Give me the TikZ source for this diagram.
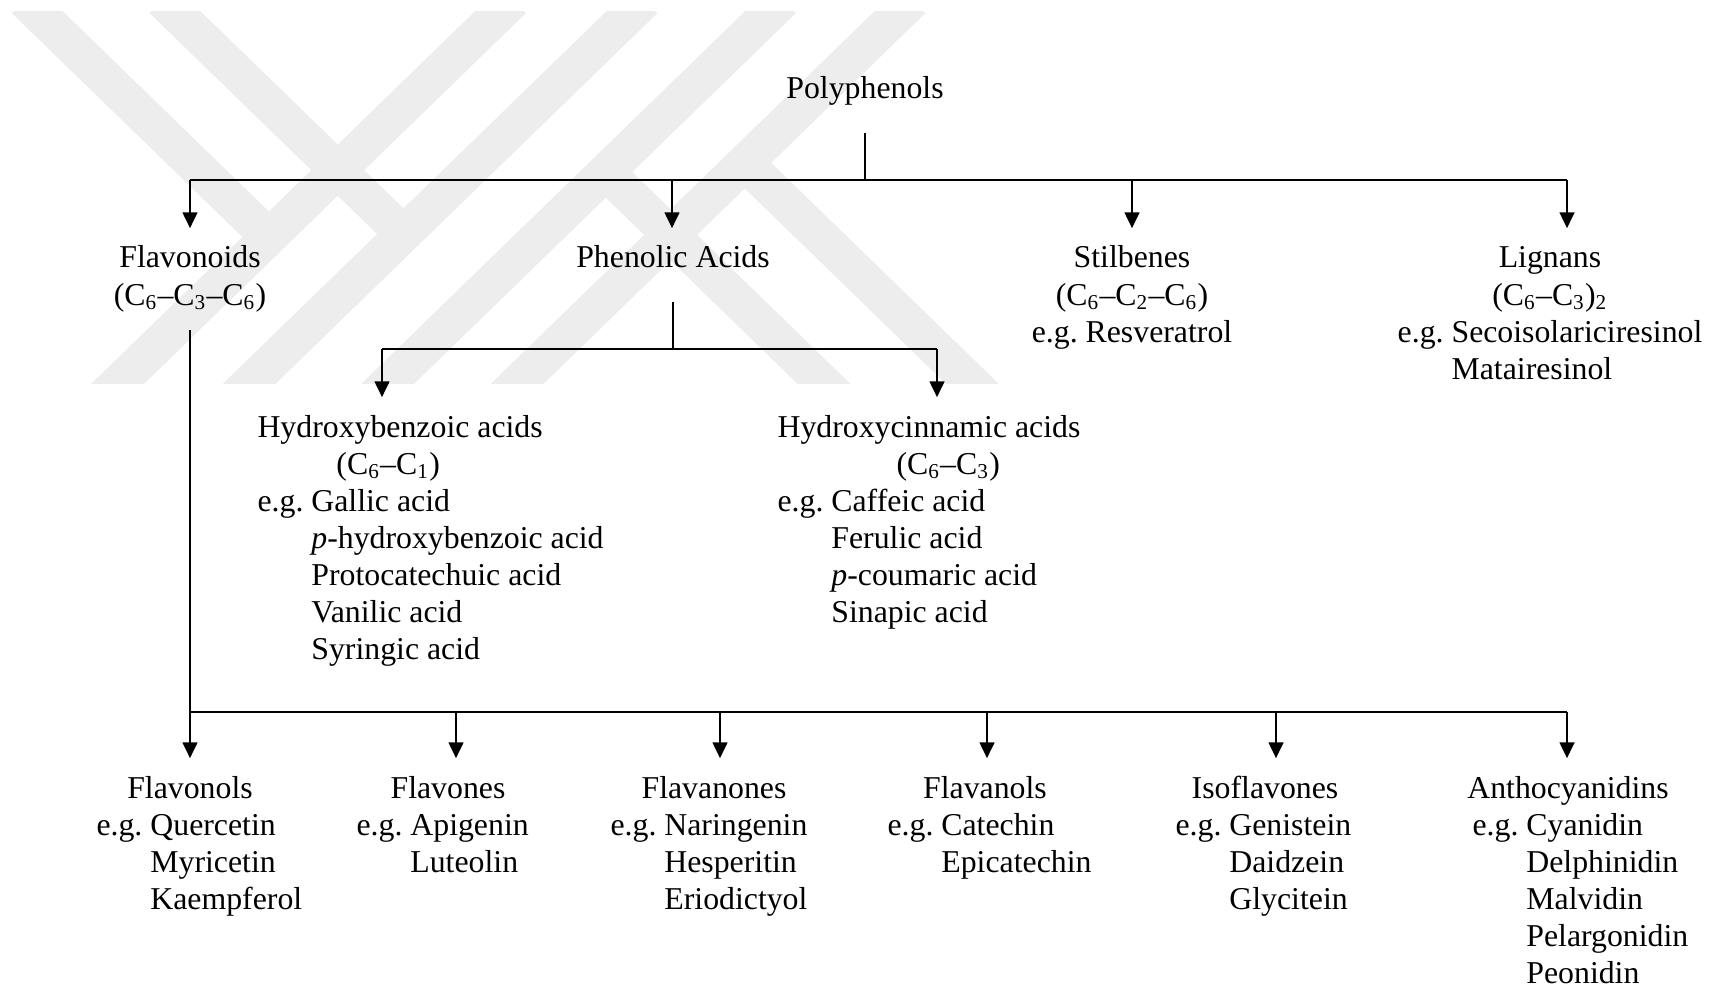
\documentclass[tikz,border=0pt]{standalone}
\usepackage{fontspec}
\setmainfont{Liberation Serif}
\usetikzlibrary{arrows.meta}

\newcommand{\grp}[2]{\begin{tabular}[t]{@{}#1@{}}#2\end{tabular}}
\newcommand{\ind}{\hphantom{e.g.\ }}

\begin{document}
\begin{tikzpicture}[x=0.3774pt, y=-0.3774pt,
  every node/.style={inner xsep=0pt, inner ysep=5pt, font=\fontsize{12}{14}\selectfont\frenchspacing},
  conn/.style={line width=0.4pt},
  arr/.style={line width=1pt, -{Triangle[length=6pt, width=5.5pt]}},
  wm/.style={draw=black!7, line width=13.9pt}]
  \useasboundingbox (0,0) rectangle (1713,986);

  \begin{scope}
    \clip (0,12) rectangle (1100,383);
    \draw[wm] (24.7,0) -- (268.8,237);
    \draw[wm] (162.5,0) -- (403.5,234);
    \draw[wm] (513,0) -- (101,400);
    \draw[wm] (644.5,0) -- (232.5,400);
    \draw[wm] (783,0) -- (371,400);
    \draw[wm] (912.5,0) -- (500.5,400);
    \draw[wm] (605.8,172) -- (840.6,400);
    \draw[wm] (745.6,163.6) -- (989,400);
  \end{scope}

  \node (poly) [anchor=base] at (865,99) {\grp{c}{Polyphenols}};
  \node (flavonoids) [anchor=base] at (190,268) {\grp{c}{Flavonoids\\(C\textsubscript{6}--C\textsubscript{3}--C\textsubscript{6})}};
  \node (phenolic) [anchor=base] at (673,268) {\grp{c}{Phenolic Acids}};
  \node (stilbenes) [anchor=base] at (1132,268) {\grp{c}{Stilbenes\\(C\textsubscript{6}--C\textsubscript{2}--C\textsubscript{6})\\e.g. Resveratrol}};
  \node (lignans) [anchor=base] at (1550,268) {\grp{c}{Lignans\\(C\textsubscript{6}--C\textsubscript{3})\textsubscript{2}\\\grp{l}{e.g. Secoisolariciresinol\\\ind Matairesinol}}};

  \node (hbenzoic) [anchor=base west] at (257,437) {\grp{l}{Hydroxybenzoic acids\\\hspace*{29.8pt}(C\textsubscript{6}--C\textsubscript{1})\\e.g. Gallic acid\\\ind\textit{p}-hydroxybenzoic acid\\\ind Protocatechuic acid\\\ind Vanilic acid\\\ind Syringic acid}};
  \node (hcinnamic) [anchor=base west] at (777,437) {\grp{l}{Hydroxycinnamic acids\\\hspace*{44.9pt}(C\textsubscript{6}--C\textsubscript{3})\\e.g. Caffeic acid\\\ind Ferulic acid\\\ind\textit{p}-coumaric acid\\\ind Sinapic acid}};

  \node (flavonols) [anchor=base] at (190,798) {\grp{c}{Flavonols}};
  \node (flavonols-eg) [anchor=base west] at (96,835) {\grp{l}{e.g. Quercetin\\\ind Myricetin\\\ind Kaempferol}};
  \node (flavones) [anchor=base] at (448,798) {\grp{c}{Flavones}};
  \node (flavones-eg) [anchor=base west] at (356,835) {\grp{l}{e.g. Apigenin\\\ind Luteolin}};
  \node (flavanones) [anchor=base] at (714,798) {\grp{c}{Flavanones}};
  \node (flavanones-eg) [anchor=base west] at (610,835) {\grp{l}{e.g. Naringenin\\\ind Hesperitin\\\ind Eriodictyol}};
  \node (flavanols) [anchor=base] at (985,798) {\grp{c}{Flavanols}};
  \node (flavanols-eg) [anchor=base west] at (887,835) {\grp{l}{e.g. Catechin\\\ind Epicatechin}};
  \node (isoflavones) [anchor=base] at (1265,798) {\grp{c}{Isoflavones}};
  \node (isoflavones-eg) [anchor=base west] at (1175,835) {\grp{l}{e.g. Genistein\\\ind Daidzein\\\ind Glycitein}};
  \node (antho) [anchor=base] at (1568,798) {\grp{c}{Anthocyanidins}};
  \node (antho-eg) [anchor=base west] at (1472,835) {\grp{l}{e.g. Cyanidin\\\ind Delphinidin\\\ind Malvidin\\\ind Pelargonidin\\\ind Peonidin}};

  \coordinate (ta) at (190,180);
  \coordinate (tb) at (672,180);
  \coordinate (tc) at (1132,180);
  \coordinate (td) at (1567,180);
  \coordinate (pa) at (382,349);
  \coordinate (pb) at (937,349);
  \coordinate (ba) at (190,712);
  \coordinate (bb) at (456,712);
  \coordinate (bc) at (720,712);
  \coordinate (bd) at (987,712);
  \coordinate (be) at (1276,712);
  \coordinate (bf) at (1567,712);

  \draw[conn, shorten <=3.6pt] (poly) -- (poly |- ta);
  \draw[conn] (ta) -- (td);
  \draw[arr] (ta) -- (ta |- flavonoids.north);
  \draw[arr] (tb) -- (tb |- phenolic.north);
  \draw[arr] (tc) -- (tc |- stilbenes.north);
  \draw[arr] (td) -- (td |- lignans.north);

  \draw[conn, shorten <=3.6pt] (phenolic) -- (phenolic |- pa);
  \draw[conn] (pa) -- (pb);
  \draw[arr] (pa) -- (pa |- hbenzoic.north);
  \draw[arr] (pb) -- (pb |- hcinnamic.north);

  \draw[conn] (flavonoids) -- (ba);
  \draw[conn] (ba) -- (bf);
  \draw[arr] (ba) -- (ba |- flavonols.north);
  \draw[arr] (bb) -- (bb |- flavones.north);
  \draw[arr] (bc) -- (bc |- flavanones.north);
  \draw[arr] (bd) -- (bd |- flavanols.north);
  \draw[arr] (be) -- (be |- isoflavones.north);
  \draw[arr] (bf) -- (bf |- antho.north);
\end{tikzpicture}
\end{document}
